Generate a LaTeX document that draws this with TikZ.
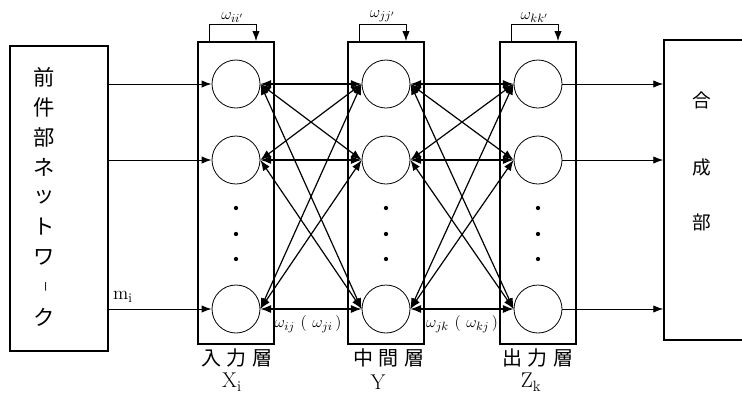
\documentclass[tikz,border=0pt]{standalone}
\usepackage{fontspec}
\newfontfamily\jp{Noto Sans CJK JP}
\usetikzlibrary{arrows.meta}
\begin{document}
\begin{tikzpicture}[x=.75pt,y=-.75pt,
    cell/.style={draw,circle,line width=.6pt,minimum size=36pt,inner sep=0pt},
    layer/.style={draw,line width=1.4pt,minimum width=57pt,minimum height=226.5pt,inner sep=0pt},
    block/.style={draw,line width=1.1pt,inner sep=0pt},
    feed/.style={-{Latex[length=7.5pt,width=5.5pt]},line width=.7pt},
    link/.style={{Latex[length=8pt,width=6pt]}-{Latex[length=8pt,width=6pt]},line width=.9pt},
    weight/.style={font=\fontsize{13}{14}\selectfont,inner sep=1pt},
    jlab/.style={font=\jp\fontsize{15}{16}\selectfont,inner sep=0pt},
    vlab/.style={font=\fontsize{16}{17}\selectfont,inner sep=0pt}]
    \useasboundingbox (0,0) rectangle (742,394);
    % outer blocks
    \node[block,minimum width=73.5pt,minimum height=228.75pt] (pre) at (59,198.5) {};
    \node[block,minimum width=72pt,minimum height=225pt] (syn) at (712,190) {};
    \foreach \c [count=\k] in {前,件,部,ネ,ッ,ト,ワ}
        \node[jlab,font=\jp\fontsize{16}{16}\selectfont] (pre\k) at (44,47+30*\k) {\c};
    \node[jlab,rotate=-90,font=\jp\fontsize{8}{8}\selectfont] (pre8) at (44,287) {ー};
    \node[jlab,font=\jp\fontsize{16}{16}\selectfont] (pre9) at (44,317) {ク};
    \foreach \c/\y [count=\k] in {合/100,成/167,部/222}
        \node[jlab,font=\jp\fontsize{14}{14}\selectfont] (syn\k) at (702,\y) {\c};
    % layers
    \foreach \L/\cx in {X/236,Y/386,Z/538}{
        \node[layer] (box\L) at (\cx,193) {};
        \foreach \r/\cy in {1/84,2/160,3/309}
            \node[cell] (\L\r) at (\cx,\cy) {};
        \foreach \d in {208,234,259}
            \fill (\cx,\d) circle (1.6pt);
    }
    \foreach \L/\w in {X/{\omega_{ii'}},Y/{\omega_{jj'}},Z/{\omega_{kk'}}}
        \draw[feed] ([xshift=-20.25pt]box\L.north) -- ++(0,12.75pt) -| node[pos=.25,above,weight]{$\w$} ([xshift=15pt]box\L.north);
    \foreach \r in {1,2,3}{
        \draw[feed] (pre.east |- X\r) -- (X\r);
        \draw[feed] (Z\r) -- (syn.west |- Z\r);
    }
    \foreach \i in {1,2,3}
        \foreach \j in {1,2,3}{
            \draw[link] (X\i.east) -- (Y\j.west);
            \draw[link] (Y\i.east) -- (Z\j.west);
        }
    % labels
    \node[weight,font=\fontsize{14}{14}\selectfont] (mi) at (123,297) {m$_{\mathrm{i}}$};
    \node[weight] (wxy) at (308,324) {$\omega_{ij}\ (\ \omega_{ji}\,)$};
    \node[weight] (wyz) at (462,324) {$\omega_{jk}\ (\ \omega_{kj}\,)$};
    \node[jlab] (capX) at (237,358) {入\hspace{4pt}力\hspace{4pt}層};
    \node[jlab] (capY) at (389,358) {中\hspace{4pt}間\hspace{4pt}層};
    \node[jlab] (capZ) at (538,358) {出\hspace{4pt}力\hspace{4pt}層};
    \node[vlab] (varX) at (232,382) {X$_{\mathrm{i}}$};
    \node[vlab] (varY) at (378,382) {Y};
    \node[vlab] (varZ) at (531,382) {Z$_{\mathrm{k}}$};
\end{tikzpicture}
\end{document}
